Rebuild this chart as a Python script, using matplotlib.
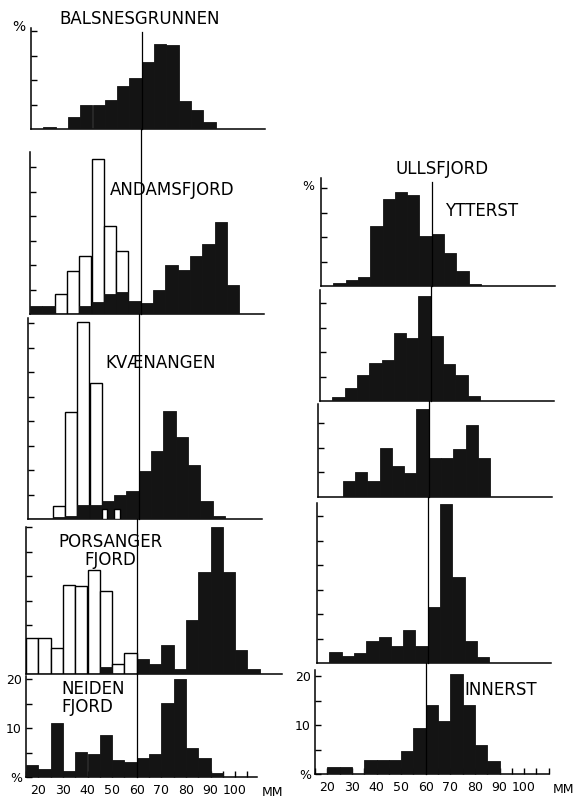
import numpy as np
import matplotlib.pyplot as plt
from matplotlib.ticker import FixedLocator, FixedFormatter, MultipleLocator, NullFormatter

plt.rcParams['font.family'] = ['DejaVu Sans']

W, H = 579, 801
PX_MM = 2.46    # pixels per mm on the x axes
PX_PCT = 4.9    # pixels per percent on the y axes
BIN = 5         # mm per length class
X0 = 15         # mm at the y axis
REF_MM = 60     # the long vertical line through each column

# percent per 5 mm class; *_from is the first class (mm)
balsnes_from = 15
balsnes_dark = [0, 0.4, 0, 2.4, 4.8, 4.8, 5.9, 8.7, 10.5, 13.7, 17.3, 17.1, 5.7, 3.9, 1.5]

andams_from = 15
andams_open = [0, 0, 4.1, 8.8, 11.9, 31.6, 18.0, 12.9]
andams_dark = [1.6, 1.6, 0, 0, 1.6, 2.4, 4.0, 4.4, 2.7, 2.3, 4.9, 9.9, 8.9, 11.9, 14.2, 18.8, 6.0]

kvaen_from = 15
kvaen_open = [0, 0, 2.6, 21.8, 40.3, 27.8]
kvaen_dark = [0, 0, 0.5, 0.7, 2.8, 2.8, 3.6, 4.8, 5.8, 9.7, 13.9, 22.0, 16.8, 11.1, 3.6, 0.7]
kvaen_open_late_from = 45
kvaen_open_late = [2.1, 2.1]

pors_from = 15
pors_open = [7.3, 7.3, 5.4, 18.1, 18.0, 21.2, 17.0, 2.0, 4.2]
pors_dark = [0, 0, 0, 0, 0, 0, 1.4, 0, 0, 3.0, 2.0, 5.9, 1.0, 11.1, 20.9, 29.9, 20.9, 5.0, 1.0]

neiden_from = 15
neiden_dark = [2.4, 1.6, 11.1, 1.3, 5.2, 4.6, 8.6, 3.5, 3.0, 3.9, 4.7, 15.1, 20.1, 6.0, 3.9, 0.8]

ytter_from = 20
ytter_dark = [0.7, 1.2, 1.8, 12.2, 17.8, 19.2, 18.6, 10.3, 10.7, 6.7, 3.1, 0.5]

ulls2_from = 20
ulls2_dark = [0.8, 2.6, 5.3, 7.8, 8.3, 13.8, 12.8, 21.5, 13.3, 7.5, 5.3, 1.0]

ulls3_from = 25
ulls3_dark = [3.2, 5.1, 3.2, 9.9, 6.4, 4.9, 17.9, 7.9, 7.9, 9.7, 14.7, 7.9]

ulls4_from = 20
ulls4_dark = [2.2, 1.5, 2.0, 4.4, 5.3, 3.5, 6.7, 3.5, 11.4, 32.4, 17.6, 4.4, 1.2]

inner_from = 20
inner_dark = [1.4, 1.4, 0, 2.8, 2.8, 2.8, 4.6, 9.3, 14.1, 10.9, 20.5, 14.1, 5.9, 2.6]

tick_mm = [20, 30, 40, 50, 60, 70, 80, 90, 100]
tick_txt = ['20', '30', '40', '50', '60', '70', '80', '90', '100']

DARK = '#141414'

fig = plt.figure(figsize=(W / 100, H / 100), dpi=100)


def panel(left, base, top, xmax):
    width = (xmax - X0) * PX_MM
    ax = fig.add_axes([left / W, 1 - base / H, width / W, (base - top) / H])
    ymax = (base - top) / PX_PCT
    ax.set_xlim(X0, xmax)
    ax.set_ylim(0, ymax)
    for s in ['top', 'right']:
        ax.spines[s].set_visible(False)
    for s in ['left', 'bottom']:
        ax.spines[s].set_linewidth(1.1)
    ax.yaxis.set_major_locator(FixedLocator(np.arange(5, ymax + 0.5, 5)))
    ax.yaxis.set_major_formatter(NullFormatter())
    ax.tick_params(axis='y', direction='in', length=4, width=1, labelsize=9, pad=3)
    ax.set_xticks([])
    ax.patch.set_alpha(0)
    return ax


def bars(ax, start, vals, kind='dark', width=BIN):
    x = start + BIN * np.arange(len(vals))
    if kind == 'dark':
        ax.bar(x, vals, width=width, align='edge', color=DARK, edgecolor=DARK,
               linewidth=0.6, zorder=3)
    else:
        ax.bar(x, vals, width=width, align='edge', color='white', edgecolor='black',
               linewidth=1.0, zorder=2 if kind == 'open' else 4)


def ref_line(ax, base, top, upto):
    ax.axvline(REF_MM, ymin=0, ymax=(base - upto) / (base - top), color='black',
               linewidth=0.9, clip_on=False, zorder=5)


def bottom_axis(ax):
    ax.xaxis.set_major_locator(FixedLocator(tick_mm))
    ax.xaxis.set_major_formatter(FixedFormatter(tick_txt))
    ax.xaxis.set_minor_locator(MultipleLocator(5))
    ax.tick_params(axis='x', which='both', direction='in', length=4, width=1,
                   labelsize=9, pad=5)
    ax.yaxis.set_major_locator(FixedLocator([0, 5, 10, 15, 20]))
    ax.yaxis.set_major_formatter(FixedFormatter(['%', '', '10', '', '20']))
    ax.annotate('MM', xy=(1, 0), xycoords='axes fraction', xytext=(3, -11),
                textcoords='offset points', ha='left', va='center', fontsize=9)


def label(x, y, s, size=12, ha='center'):
    fig.text(x / W, 1 - y / H, s, ha=ha, va='center', fontsize=size,
             multialignment=ha, linespacing=0.95)


# ---------------- left column ----------------
ax = panel(31, 129, 28, 110)
bars(ax, balsnes_from, balsnes_dark)
ref_line(ax, 129, 28, 32)

ax = panel(30, 314, 152, 110)
bars(ax, andams_from, andams_open, 'open')
bars(ax, andams_from, andams_dark)
ref_line(ax, 314, 152, 129)

ax = panel(28, 519, 318, 110)
bars(ax, kvaen_from, kvaen_open, 'open')
bars(ax, kvaen_from, kvaen_dark)
bars(ax, kvaen_open_late_from, kvaen_open_late, 'top', width=2.2)
ref_line(ax, 519, 318, 314)

ax = panel(26, 674, 527, 119)
bars(ax, pors_from, pors_open, 'open')
bars(ax, pors_from, pors_dark)
ref_line(ax, 674, 527, 519)

ax = panel(26, 777, 676, 109)
bars(ax, neiden_from, neiden_dark)
ref_line(ax, 777, 676, 674)
bottom_axis(ax)

# ---------------- right column (Ullsfjord) ----------------
ax = panel(321, 286, 178, 110)
bars(ax, ytter_from, ytter_dark)
ref_line(ax, 286, 178, 182)

ax = panel(320, 401, 290, 110)
bars(ax, ulls2_from, ulls2_dark)
ref_line(ax, 401, 290, 286)

ax = panel(318, 497, 404, 110)
bars(ax, ulls3_from, ulls3_dark)
ref_line(ax, 497, 404, 401)

ax = panel(317, 663, 503, 110)
bars(ax, ulls4_from, ulls4_dark)
ref_line(ax, 663, 503, 497)

ax = panel(315, 774, 670, 110)
bars(ax, inner_from, inner_dark)
ref_line(ax, 774, 670, 663)
bottom_axis(ax)

# ---------------- lettering ----------------
label(140, 19, 'BALSNESGRUNNEN')
label(19, 27, '%', size=10)
label(172, 190, 'ANDAMSFJORD')
label(161, 363, 'KVÆNANGEN')
label(110, 551, 'PORSANGER\nFJORD')
label(61, 698, 'NEIDEN\nFJORD', ha='left')
label(442, 169, 'ULLSFJORD')
label(308, 186, '%', size=9)
label(482, 211, 'YTTERST')
label(501, 690, 'INNERST')

fig.savefig('out.png', dpi=100, facecolor='white')
